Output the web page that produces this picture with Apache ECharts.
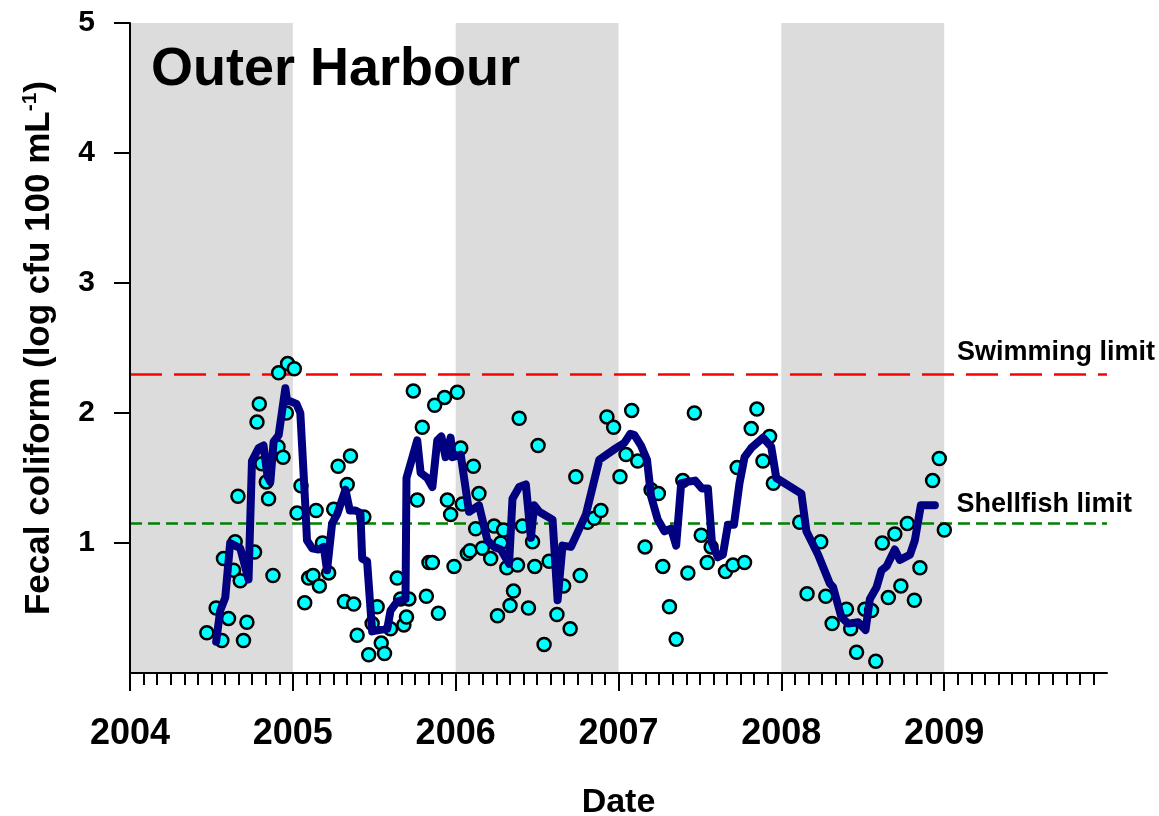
<!DOCTYPE html>
<html><head><meta charset="utf-8">
<script src="https://cdn.jsdelivr.net/npm/echarts@6/dist/echarts.min.js"></script>
<style>html,body{margin:0;padding:0;background:#fff}#c{width:1159px;height:816px}</style>
</head><body><div id="c"></div>
<script>
// Individual samples (decimal year, log cfu 100 mL-1)
const sampleDates = [2004.472,2004.529,2004.564,2004.574,2004.605,2004.636,2004.646,2004.663,2004.677,2004.697,2004.718,2004.765,2004.780,2004.794,2004.810,2004.837,2004.851,2004.878,2004.909,2004.913,2004.940,2004.960,2004.968,
2005.009,2005.026,2005.050,2005.073,2005.097,2005.124,2005.143,2005.163,2005.182,2005.220,2005.251,2005.278,2005.317,2005.334,2005.354,2005.374,2005.395,2005.436,2005.466,2005.487,2005.518,2005.543,2005.563,2005.600,2005.641,2005.662,2005.682,2005.698,2005.713,2005.740,2005.764,2005.795,2005.820,2005.836,2005.857,2005.871,2005.894,2005.932,2005.949,2005.969,2005.990,
2006.010,2006.031,2006.041,2006.072,2006.088,2006.109,2006.123,2006.143,2006.164,2006.215,2006.236,2006.257,2006.277,2006.294,2006.314,2006.334,2006.355,2006.380,2006.390,2006.410,2006.447,2006.472,2006.486,2006.506,2006.543,2006.574,2006.622,2006.663,2006.703,2006.738,2006.765,2006.810,2006.851,2006.892,2006.929,2006.970,
2007.009,2007.046,2007.081,2007.118,2007.163,2007.200,2007.245,2007.272,2007.313,2007.354,2007.395,2007.426,2007.466,2007.508,2007.545,2007.569,2007.657,2007.703,2007.729,2007.774,2007.815,2007.850,2007.887,2007.928,2007.951,
2008.113,2008.158,2008.242,2008.273,2008.312,2008.400,2008.426,2008.462,2008.513,2008.554,2008.580,2008.620,2008.657,2008.697,2008.734,2008.774,2008.817,2008.851,2008.929,2008.970,2009.001];
const sampleValues = [0.31,0.50,0.25,0.88,0.42,0.79,1.01,1.36,0.71,0.25,0.39,0.93,1.93,2.07,1.61,1.47,1.34,0.75,1.74,2.31,1.66,2.00,2.38,
2.34,1.23,1.44,0.54,0.73,0.75,1.25,0.67,1.00,0.77,1.26,1.59,0.55,1.45,1.67,0.53,0.29,1.20,0.14,0.38,0.51,0.23,0.15,0.34,0.73,0.57,0.37,0.43,0.57,2.17,1.33,1.89,0.59,0.85,0.85,2.06,0.46,2.12,1.33,1.22,0.82,
2.16,1.73,1.30,0.92,0.94,1.59,1.11,1.38,0.96,0.88,1.13,0.44,1.00,1.10,0.81,0.52,0.63,0.83,1.96,1.13,0.50,1.01,0.82,1.75,0.22,0.86,0.45,0.67,0.34,1.51,0.75,1.16,1.19,1.25,1.97,1.89,
1.51,1.68,2.02,1.63,0.97,1.41,1.38,0.82,0.51,0.26,1.48,0.77,2.00,1.06,0.85,0.97,0.78,0.83,1.58,0.85,1.88,2.03,1.63,1.82,1.46,
1.16,0.61,1.01,0.59,0.38,0.49,0.34,0.16,0.49,0.48,0.09,1.00,0.58,1.07,0.67,1.15,0.56,0.81,1.48,1.65,1.10];

// Running mean line
const meanDates = [2004.529,2004.554,2004.585,2004.615,2004.677,2004.728,2004.749,2004.790,2004.820,2004.845,2004.862,2004.882,2004.913,2004.954,2004.964,2004.985,
2005.022,2005.046,2005.077,2005.087,2005.118,2005.159,2005.190,2005.210,2005.241,2005.272,2005.323,2005.350,2005.385,2005.415,2005.426,2005.456,2005.487,2005.528,2005.580,2005.600,2005.641,2005.692,2005.698,2005.764,2005.785,2005.826,2005.857,2005.887,2005.912,2005.938,2005.969,2005.980,
2006.031,2006.082,2006.143,2006.195,2006.236,2006.277,2006.328,2006.349,2006.390,2006.431,2006.462,2006.482,2006.513,2006.595,2006.626,2006.656,2006.708,2006.800,2006.882,2006.985,
2007.036,2007.073,2007.098,2007.138,2007.175,2007.200,2007.241,2007.282,2007.323,2007.354,2007.385,2007.422,2007.471,2007.512,2007.549,2007.574,2007.610,2007.641,2007.672,2007.709,2007.743,2007.774,2007.815,2007.887,2007.938,2007.969,
2008.123,2008.154,2008.226,2008.297,2008.318,2008.369,2008.410,2008.472,2008.517,2008.544,2008.585,2008.615,2008.646,2008.697,2008.728,2008.790,2008.820,2008.857,2008.943];
const meanValues = [0.24,0.48,0.58,1.00,0.96,0.72,1.63,1.73,1.75,1.51,1.47,1.78,1.83,2.19,2.10,2.09,
2.07,2.00,1.28,1.02,0.96,0.95,0.97,0.79,1.15,1.22,1.41,1.25,1.25,1.23,0.88,0.86,0.32,0.33,0.34,0.48,0.55,0.57,1.50,1.79,1.54,1.50,1.43,1.79,1.82,1.66,1.81,1.66,
1.68,1.24,1.29,1.02,0.97,0.95,0.84,1.34,1.43,1.45,1.04,1.29,1.24,1.18,0.56,0.98,0.97,1.22,1.64,1.73,
1.77,1.84,1.83,1.75,1.64,1.36,1.18,1.09,1.11,0.98,1.46,1.47,1.48,1.42,1.42,1.00,0.89,0.91,1.14,1.14,1.46,1.66,1.73,1.81,1.74,1.50,
1.38,1.09,0.91,0.69,0.66,0.43,0.38,0.39,0.33,0.57,0.66,0.79,0.82,0.95,0.87,0.91,1.02,1.29,1.29];

const yearLabels = [2004, 2005, 2006, 2007, 2008, 2009];
const yTickValues = [1, 2, 3, 4, 5];
const shadedYears = [[2004, 2005], [2006, 2007], [2008, 2009]];
const limitNames = ['Swimming limit', 'Shellfish limit'];
const limitValues = [2.3, 1.146];

const monthTicks = [];
for (let y = 2004; y < 2010; y++) for (let m = 0; m < 12; m++) monthTicks.push(y + m / 12);

const FONT = "'Liberation Sans', Arial, sans-serif";
const limitStyles = [
  { color: '#ff0000', type: [32, 12], distance: [-48, 8] },
  { color: '#008000', type: [12, 6], distance: [-25, 5] }
];

const chart = echarts.init(document.getElementById('c'));
chart.setOption({
  animation: false,
  backgroundColor: '#fff',
  textStyle: { fontFamily: FONT },
  title: {
    text: 'Outer Harbour', left: 146, top: 38,
    textStyle: { fontSize: 54, fontWeight: 'bold', color: '#000', fontFamily: FONT }
  },
  grid: { left: 130, right: 52, top: 23, bottom: 143, containLabel: false, outerBoundsMode: 'none' },
  xAxis: [{
    type: 'value', min: 2004, max: 2010, position: 'bottom', z: 10,
    splitLine: { show: false },
    axisLine: { show: true, onZero: false, lineStyle: { color: '#000', width: 2 } },
    axisTick: { show: true, customValues: monthTicks, length: 12, lineStyle: { color: '#000', width: 2 } },
    axisLabel: { customValues: yearLabels, formatter: v => String(Math.round(v)), fontSize: 36, fontWeight: 'bold', color: '#000', margin: 43, fontFamily: FONT },
    name: 'Date', nameLocation: 'middle', nameGap: 113,
    nameTextStyle: { fontSize: 34, fontWeight: 'bold', color: '#000', fontFamily: FONT }
  }, {
    type: 'value', min: 2004, max: 2010, position: 'bottom', z: 10,
    splitLine: { show: false },
    axisLine: { show: false },
    axisLabel: { show: false },
    axisTick: { show: true, customValues: yearLabels, length: 18, lineStyle: { color: '#000', width: 2 } }
  }],
  yAxis: {
    type: 'value', min: 0, max: 5, interval: 1, z: 10,
    splitLine: { show: false },
    axisLine: { show: true, onZero: false, lineStyle: { color: '#000', width: 2 } },
    axisTick: { show: true, customValues: yTickValues, length: 16, lineStyle: { color: '#000', width: 2 } },
    axisLabel: { customValues: yTickValues, fontSize: 30, fontWeight: 'bold', color: '#000', margin: 35, fontFamily: FONT },
    name: '{a|Fecal coliform (log cfu 100 mL}{s|-1}{a|)}',
    nameLocation: 'middle', nameGap: 72, nameRotate: 90,
    nameTextStyle: {
      rich: {
        a: { fontSize: 35, fontWeight: 'bold', color: '#000', fontFamily: FONT, lineHeight: 38 },
        s: { fontSize: 21, fontWeight: 'bold', color: '#000', fontFamily: FONT, verticalAlign: 'top', lineHeight: 19 }
      }
    }
  },
  series: [{
    name: 'bands', type: 'line', data: [], silent: true,
    markArea: {
      silent: true, z: 0,
      itemStyle: { color: '#dcdcdc' },
      data: shadedYears.map(p => [{ xAxis: p[0] }, { xAxis: p[1] }])
    }
  }, {
    name: 'limits', type: 'line', data: [], silent: true,
    markLine: {
      silent: true, symbol: ['none', 'none'], z: 3,
      label: { show: true, position: 'insideEndTop', fontSize: 27, fontWeight: 'bold', color: '#000', fontFamily: FONT },
      data: limitValues.map((v, i) => ({
        yAxis: v,
        label: { formatter: limitNames[i], distance: limitStyles[i].distance },
        lineStyle: { color: limitStyles[i].color, type: limitStyles[i].type, width: 2.5 }
      }))
    }
  }, {
    name: 'samples', type: 'scatter', z: 4,
    data: sampleDates.map((d, i) => [d, sampleValues[i]]),
    symbol: 'circle', symbolSize: 13,
    itemStyle: { color: '#00ffff', borderColor: '#000', borderWidth: 2.5, opacity: 1 }
  }, {
    name: 'mean', type: 'line', z: 5,
    data: meanDates.map((d, i) => [d, meanValues[i]]),
    showSymbol: false, symbol: 'none',
    lineStyle: { color: '#000080', width: 8, cap: 'round', join: 'round' }
  }]
});
</script>
</body></html>
